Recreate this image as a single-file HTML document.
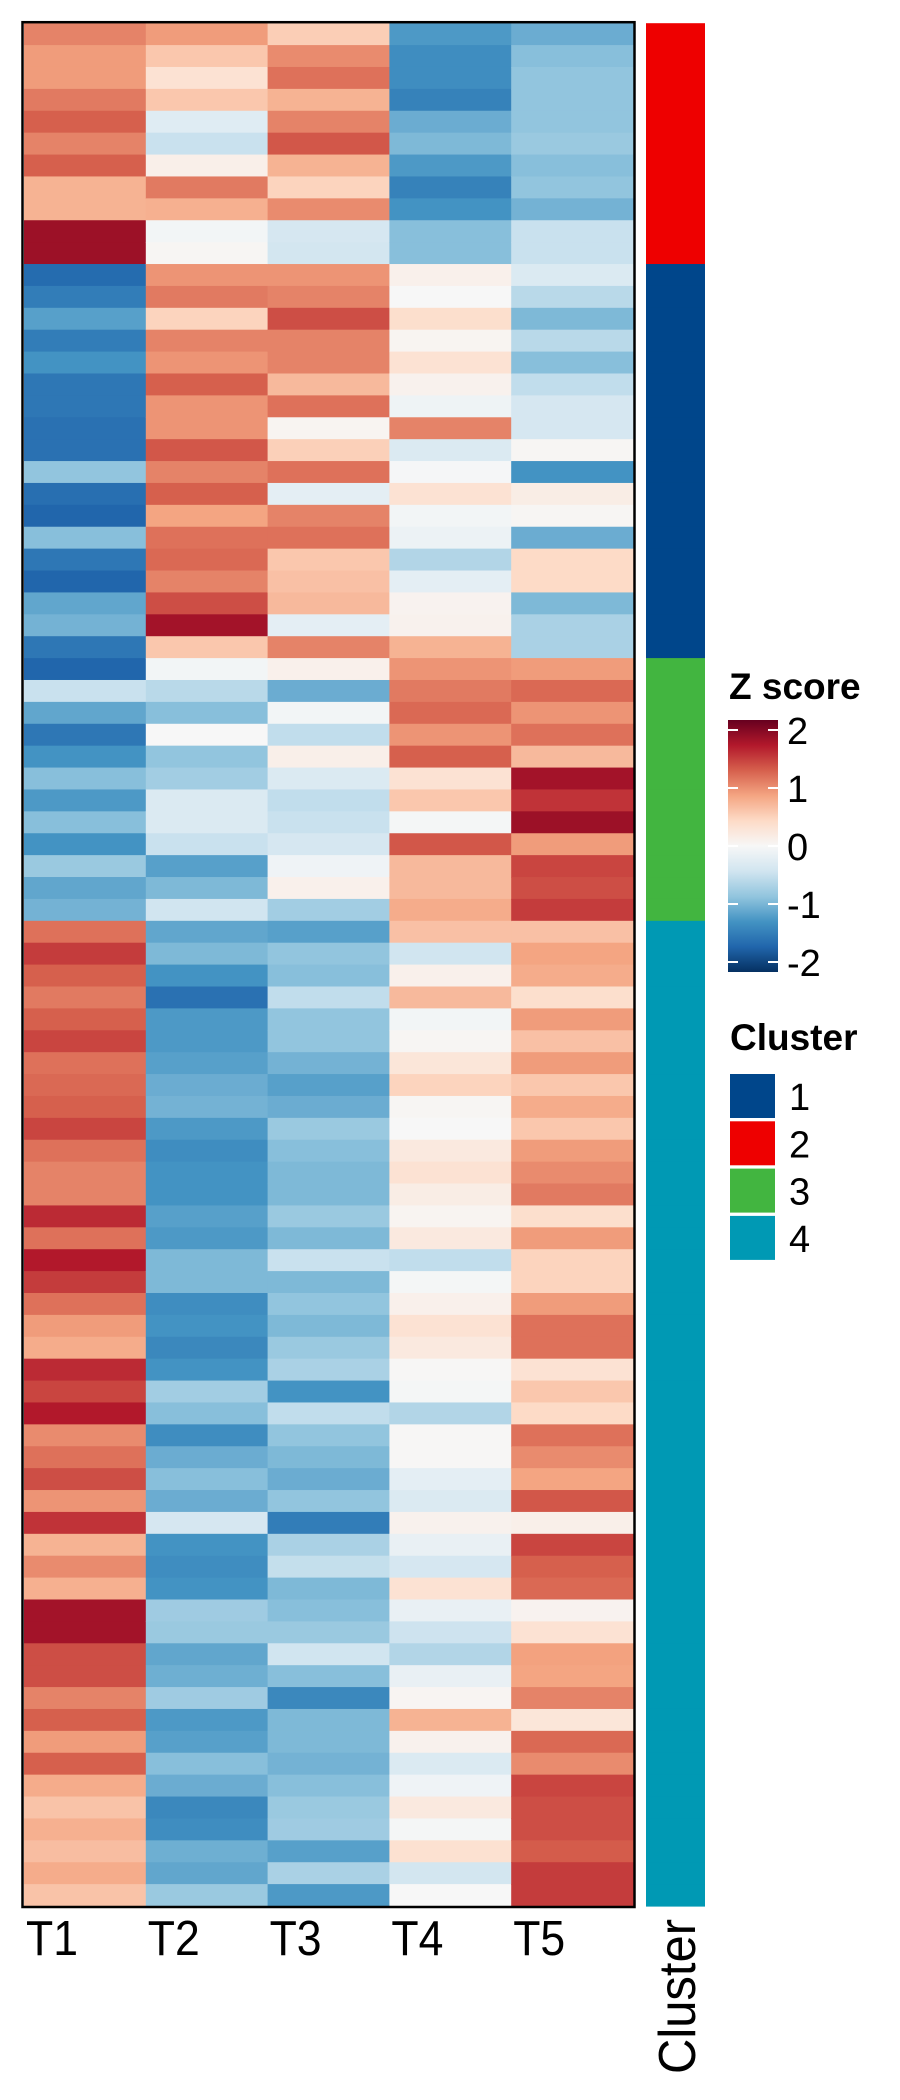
<!DOCTYPE html>
<html><head><meta charset="utf-8"><style>
html,body{margin:0;padding:0;background:#fff;}
svg{display:block;font-family:"Liberation Sans",sans-serif;}
</style></head><body>
<svg id="chart" width="900" height="2100" viewBox="0 0 900 2100">
<g id="cells"></g>
<g id="clusterbar"></g>
<rect x="22.5" y="22.2" width="612" height="1884.8" fill="none" stroke="#000" stroke-width="2.5"/>
<g id="xlabels" font-size="49" fill="#000"></g>
<text x="0" y="0" font-size="52" textLength="155" lengthAdjust="spacingAndGlyphs" transform="translate(695,2074) rotate(-90)">Cluster</text>
<g>
<text x="729" y="699" font-size="37" font-weight="bold">Z score</text>
<defs><linearGradient id="grad" x1="0" y1="1" x2="0" y2="0">
<stop offset="0" stop-color="#053061"/><stop offset="0.1" stop-color="#2166ac"/><stop offset="0.2" stop-color="#4393c3"/><stop offset="0.3" stop-color="#92c5de"/><stop offset="0.4" stop-color="#d1e5f0"/><stop offset="0.5" stop-color="#f7f7f7"/><stop offset="0.6" stop-color="#fddbc7"/><stop offset="0.7" stop-color="#f4a582"/><stop offset="0.8" stop-color="#d6604d"/><stop offset="0.9" stop-color="#b2182b"/><stop offset="1" stop-color="#67001f"/>
</linearGradient></defs>
<rect x="728" y="720" width="50" height="252" fill="url(#grad)"/>
<g id="cbticks"></g>
</g>
<g id="clusterlegend">
<text x="730" y="1050" font-size="37" font-weight="bold">Cluster</text>
</g>
</svg>
<script>
const columns = ["T1","T2","T3","T4","T5"];
const rowClusters = [].concat(Array(11).fill(2),Array(18).fill(1),Array(12).fill(3),Array(45).fill(4));
const t1 = [1.0,0.85,0.85,1.05,1.2,1.0,1.2,0.7,0.7,1.72,1.72,
-1.55,-1.4,-1.1,-1.4,-1.2,-1.45,-1.45,-1.5,-1.5,-0.8,-1.52,-1.6,-0.85,-1.45,-1.6,-1.05,-0.95,-1.45,
-1.6,-0.45,-1.05,-1.45,-1.2,-0.85,-1.15,-0.85,-1.2,-0.75,-1.05,-0.95,
1.1,1.4,1.2,1.05,1.2,1.35,1.1,1.15,1.2,1.35,1.1,1.0,1.0,1.5,1.1,1.6,1.4,1.1,0.85,
0.75,1.5,1.35,1.6,0.95,1.1,1.3,0.9,1.45,0.7,0.95,0.72,1.68,1.68,1.3,1.3,1.0,1.2,0.85,1.2,0.75,0.58,0.72,0.62,0.75,0.58];
const t2 = [0.85,0.55,0.3,0.55,-0.25,-0.45,0.12,1.05,0.72,-0.05,0.03,
0.9,1.05,0.45,1.0,0.9,1.2,0.9,0.9,1.25,1.0,1.2,0.8,1.1,1.15,1.0,1.3,1.68,0.55,
-0.05,-0.55,-0.85,0,-0.8,-0.7,-0.3,-0.3,-0.45,-1.1,-0.9,-0.4,
-1.05,-0.9,-1.2,-1.5,-1.15,-1.15,-1.1,-1.0,-0.95,-1.15,-1.25,-1.2,-1.2,-1.1,-1.15,-0.9,-0.9,-1.25,-1.2,
-1.3,-1.2,-0.7,-0.85,-1.25,-1.0,-0.85,-1.0,-0.35,-1.2,-1.25,-1.2,-0.72,-0.75,-1.05,-0.98,-0.72,-1.15,-1.1,-0.85,-1.0,-1.3,-1.25,-0.98,-1.05,-0.75];
const t3 = [0.5,0.95,1.1,0.7,1.0,1.25,0.7,0.45,0.95,-0.35,-0.38,
0.9,1.0,1.3,1.0,1.0,0.65,1.1,0.05,0.48,1.1,-0.2,1.0,1.1,0.55,0.6,0.65,-0.2,1.0,
0.1,-1.0,-0.05,-0.5,0.12,-0.3,-0.5,-0.45,-0.35,-0.08,0.1,-0.7,
-1.1,-0.8,-0.85,-0.5,-0.8,-0.8,-0.95,-1.1,-1.0,-0.75,-0.85,-0.9,-0.9,-0.75,-0.9,-0.45,-0.9,-0.8,-0.9,
-0.75,-0.65,-1.2,-0.5,-0.8,-0.9,-1.0,-0.8,-1.4,-0.65,-0.48,-0.9,-0.85,-0.75,-0.4,-0.85,-1.3,-0.9,-0.9,-0.95,-0.85,-0.75,-0.72,-1.1,-0.65,-1.15];
const t4 = [-1.15,-1.25,-1.25,-1.35,-1.0,-0.9,-1.15,-1.35,-1.2,-0.85,-0.85,
0.1,0,0.35,0.05,0.3,0.08,-0.1,1.0,-0.3,-0.02,0.3,-0.05,-0.12,-0.6,-0.2,0.07,0.08,0.7,
0.9,1.05,1.15,0.9,1.2,0.3,0.55,-0.03,1.25,0.65,0.65,0.75,
0.6,-0.4,0.1,0.65,-0.05,0.03,0.25,0.45,0.03,0,0.2,0.3,0.15,0.05,0.2,-0.5,-0.03,0.1,0.3,
0.2,0.02,-0.03,-0.6,0.02,0.02,-0.2,-0.3,0.08,-0.15,-0.35,0.3,-0.15,-0.42,-0.6,-0.15,0.04,0.7,0.08,-0.3,-0.08,0.2,-0.03,0.32,-0.38,0];
const t5 = [-1.0,-0.85,-0.8,-0.8,-0.8,-0.75,-0.85,-0.8,-0.95,-0.45,-0.45,
-0.3,-0.55,-0.9,-0.55,-0.85,-0.5,-0.35,-0.35,0.03,-1.2,0.15,0.03,-1.0,0.4,0.4,-0.9,-0.65,-0.65,
0.85,1.15,0.9,1.1,0.65,1.68,1.45,1.72,0.85,1.35,1.3,1.4,
0.6,0.8,0.75,0.35,0.85,0.6,0.85,0.55,0.75,0.55,0.85,0.95,1.05,0.35,0.85,0.45,0.45,0.85,1.1,
1.1,0.3,0.55,0.4,1.1,0.95,0.8,1.25,0.12,1.35,1.2,1.15,0.07,0.3,0.82,0.8,1.0,0.25,1.15,0.95,1.35,1.3,1.3,1.22,1.4,1.4];
const legendTicks = [2,1,0,-1,-2];
const clusterIds = [1,2,3,4];
const clusterColors = {1:"#00468b",2:"#ee0000",3:"#42b540",4:"#0099b4"};

const series = [t1,t2,t3,t4,t5];
const NS="http://www.w3.org/2000/svg";
const X0=24, X1=633, Y0=23.2, Y1=1906;
const nRows=t1.length;
const colW=(X1-X0)/columns.length, rowH=(Y1-Y0)/nRows;
const xPos=i=>X0+i*colW, yPos=r=>Y0+r*rowH;
const stops=["#053061","#2166ac","#4393c3","#92c5de","#d1e5f0","#f7f7f7","#fddbc7","#f4a582","#d6604d","#b2182b","#67001f"];
function hex(h){return [1,3,5].map(i=>parseInt(h.substr(i,2),16));}
function color(v){
  let t=(Math.max(-2,Math.min(2,v))+2)/4*10;
  let i=Math.min(9,Math.floor(t)), f=t-i;
  let a=hex(stops[i]), b=hex(stops[i+1]);
  return "rgb("+a.map((c,k)=>Math.round(c+(b[k]-c)*f)).join(",")+")";
}
function mk(tag,attrs,parent){const e=document.createElementNS(NS,tag);for(const k in attrs)e.setAttribute(k,attrs[k]);parent.appendChild(e);return e;}
const cells=document.getElementById("cells");
series.forEach((s,c)=>{s.forEach((v,r)=>{
  const e=mk("rect",{x:xPos(c),y:yPos(r),width:colW+0.6,height:rowH+0.6,fill:color(v)},cells);
  
  
});});
const cb=document.getElementById("clusterbar");
rowClusters.forEach((k,r)=>{
  const e=mk("rect",{x:646,y:yPos(r),width:59,height:rowH+0.6,fill:clusterColors[k]},cb);
  
  
});
const xl=document.getElementById("xlabels");
columns.forEach((c,i)=>{
  const e=mk("text",{x:xPos(i)+2,y:1955,textLength:52,lengthAdjust:"spacingAndGlyphs"},xl); e.textContent=c;
  
  
});
const tk=document.getElementById("cbticks");
const legY=v=>962-(v+2)/4*232;
legendTicks.forEach(v=>{
  const y=legY(v);
  const l1=mk("line",{x1:728,x2:738,y1:y,y2:y,stroke:"#fff","stroke-width":2},tk);
  
  
  const l2=mk("line",{x1:768,x2:778,y1:y,y2:y,stroke:"#fff","stroke-width":2},tk);
  
  
  const t=mk("text",{x:787,y:y+14,"font-size":38},tk); t.textContent=String(v);
  
  
});
const cl=document.getElementById("clusterlegend");
clusterIds.forEach((k,i)=>{
  const y=1074+i*47.3;
  const r=mk("rect",{x:730,y:y,width:45,height:44,fill:clusterColors[k]},cl);
  
  
  const t=mk("text",{x:789,y:y+36,"font-size":38},cl); t.textContent=String(k);
  
  
});
</script>
</body></html>
